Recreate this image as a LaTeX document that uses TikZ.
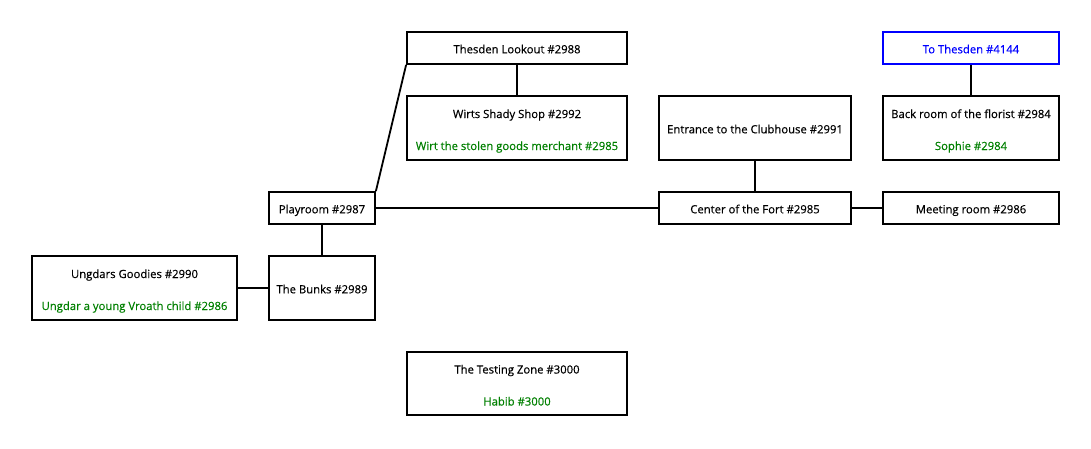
\documentclass[tikz,border=0pt]{standalone}
\usepackage{fontspec}
\setmainfont{Open Sans}[FakeBold=0.4]
\definecolor{npcgreen}{RGB}{0,128,0}
\definecolor{linkblue}{RGB}{0,0,255}
\tikzset{
  room/.style={draw=black, line width=1.8, fill=white, inner sep=0pt, align=center,
    font=\fontsize{11.3}{32}\selectfont, text height=10.6, text depth=0},
  tworoom/.style={room, text height=44, text depth=0},
  link/.style={room, draw=linkblue, text=linkblue},
  conn/.style={line width=1.8},
}
\newcommand{\npc}[1]{\textcolor{npcgreen}{#1}}
\begin{document}
\begin{tikzpicture}[x=1pt,y=-1pt]
\useasboundingbox (0,0) rectangle (1091,448);
\fill[white] (0,0) rectangle (1091,448);
% nodes
\node[room, minimum width=220, minimum height=32] (lookout) at (517,48) {Thesden Lookout \#2988};
\node[tworoom, minimum width=220, minimum height=64] (wirts) at (517,128) {Wirts Shady Shop \#2992\\\npc{Wirt the stolen goods merchant \#2985}};
\node[room, minimum width=106, minimum height=32] (play) at (322,208) {Playroom \#2987};
\node[room, minimum width=106, minimum height=64] (bunks) at (322,288) {The Bunks \#2989};
\node[tworoom, minimum width=205, minimum height=64] (ungdar) at (134.5,288) {Ungdars Goodies \#2990\\\npc{Ungdar a young Vroath child \#2986}};
\node[tworoom, minimum width=220, minimum height=63] (testing) at (517,383.5) {The Testing Zone \#3000\\\npc{Habib \#3000}};
\node[room, minimum width=192, minimum height=64] (entrance) at (755,128) {Entrance to the Clubhouse \#2991};
\node[room, minimum width=192, minimum height=32] (center) at (755,208) {Center of the Fort \#2985};
\node[room, minimum width=176, minimum height=32] (meeting) at (971,208) {Meeting room \#2986};
\node[link, minimum width=176, minimum height=32] (tothes) at (971,48) {To Thesden \#4144};
\node[tworoom, minimum width=176, minimum height=64] (back) at (971,128) {Back room of the florist \#2984\\\npc{Sophie \#2984}};
% connectors
\draw[conn] (play.north east) -- (lookout.south west);
\draw[conn] (lookout.south) -- (wirts.north);
\draw[conn] (play.east) -- (center.west);
\draw[conn] (play.south) -- (bunks.north);
\draw[conn] (ungdar.east) -- (bunks.west);
\draw[conn] (entrance.south) -- (center.north);
\draw[conn] (center.east) -- (meeting.west);
\draw[conn] (tothes.south) -- (back.north);
\end{tikzpicture}
\end{document}
